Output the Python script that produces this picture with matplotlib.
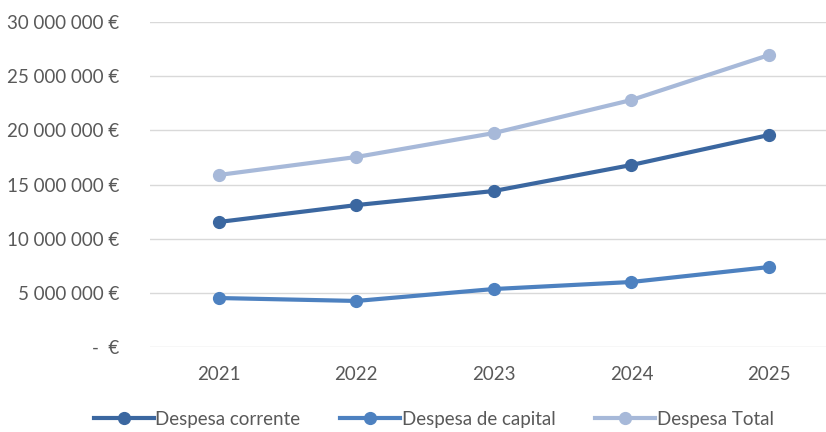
import matplotlib
matplotlib.use("Agg")
import matplotlib.pyplot as plt
from matplotlib.ticker import FuncFormatter

anos = ["2021", "2022", "2023", "2024", "2025"]
despesa_corrente = [11540000, 13100000, 14400000, 16800000, 19570000]
despesa_capital = [4520000, 4250000, 5350000, 6000000, 7380000]
despesa_total = [15880000, 17540000, 19750000, 22800000, 26950000]

plt.rcParams['font.family'] = ['Lato', 'DejaVu Sans']
cor_texto = "#595959"

def formato_euro(v, pos):
    if v == 0:
        return "-  €"
    return "{:,.0f} €".format(v).replace(",", " ")

fig = plt.figure(figsize=(8.26, 4.32), dpi=100)
ax = fig.add_axes([0.1816, 0.1968, 0.8184, 0.7522])

x = range(len(anos))
ax.plot(x, despesa_corrente, color="#3B67A0", lw=3, marker="o", ms=8.5, label="Despesa corrente", zorder=3)
ax.plot(x, despesa_capital, color="#4D81C0", lw=3, marker="o", ms=8.5, label="Despesa de capital", zorder=3)
ax.plot(x, despesa_total, color="#A7B9D9", lw=3, marker="o", ms=8.5, label="Despesa Total", zorder=3)

ax.set_xlim(-0.5, 4.415)
ax.set_ylim(0, 30000000)
ax.set_yticks(range(0, 30000001, 5000000))
ax.yaxis.set_major_formatter(FuncFormatter(formato_euro))
ax.set_xticks(list(x))
ax.set_xticklabels(anos)

ax.grid(axis="y", color="#D9D9D9", lw=1)
ax.set_axisbelow(True)
for s in ax.spines.values():
    s.set_visible(False)
ax.tick_params(length=0, labelsize=13.5, colors=cor_texto)
ax.tick_params(axis="y", pad=22)
ax.tick_params(axis="x", pad=14)

fig.legend(loc="center", bbox_to_anchor=(0.525, 0.03), ncol=3, frameon=False,
           fontsize=13.5, labelcolor=cor_texto, handlelength=3.2, handletextpad=0.1,
           columnspacing=2.1, borderpad=0.1)

fig.savefig("out.png", dpi=100)
